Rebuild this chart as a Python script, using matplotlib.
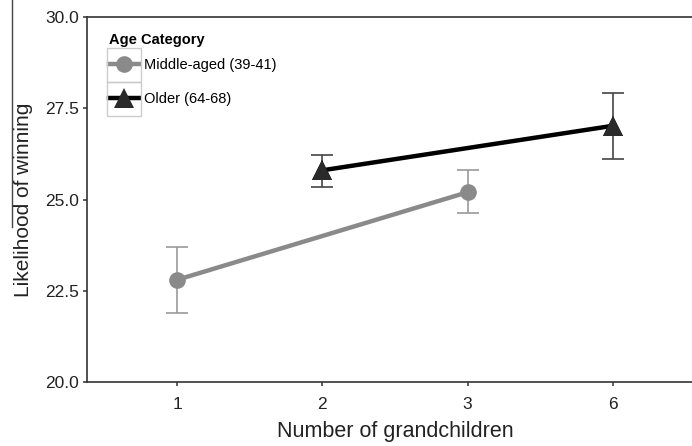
import matplotlib
matplotlib.use("Agg")
import matplotlib.pyplot as plt
from matplotlib.patches import Rectangle
from matplotlib.lines import Line2D
import numpy as np

plt.rcParams['font.family'] = ['Liberation Sans', 'DejaVu Sans']

# categories on the x axis (evenly spaced)
categories = ['1', '2', '3', '6']

# Middle-aged (39-41)
mid_x = ['1', '3']
mid_y = [22.8, 25.2]
mid_lo = [21.9, 24.63]
mid_hi = [23.7, 25.8]

# Older (64-68)
old_x = ['2', '6']
old_y = [25.8, 27.02]
old_lo = [25.35, 26.1]
old_hi = [26.22, 27.92]

fig = plt.figure(figsize=(6.92, 4.46), dpi=100)
ax = fig.add_axes([87 / 692, 64 / 446, 616 / 692, 365 / 446])

pos = {c: i for i, c in enumerate(categories)}

def draw_series(xs, ys, lo, hi, color, ecolor, marker, ms):
    px = [pos[c] for c in xs]
    yerr = [np.array(ys) - np.array(lo), np.array(hi) - np.array(ys)]
    ax.errorbar(px, ys, yerr=yerr, fmt='none', ecolor=ecolor, elinewidth=1.2,
                capsize=8, capthick=1.2, zorder=2)
    ax.plot(px, ys, color=color, lw=3.2, zorder=3)
    ax.plot(px, ys, ls='none', marker=marker, ms=ms, color=color,
            markeredgewidth=0, zorder=4)

draw_series(mid_x, mid_y, mid_lo, mid_hi, '#8a8a8a', '#9a9a9a', 'o', 12)
draw_series(old_x, old_y, old_lo, old_hi, '#000000', '#444444', '^', 15)
# darker triangle fill on top of the black line
ax.plot([pos[c] for c in old_x], old_y, ls='none', marker='^', ms=15,
        color='#2a2a2a', markeredgewidth=0, zorder=5)

ax.set_xlim(-0.62, 3.62)
ax.set_ylim(20, 30)
ax.set_xticks(range(len(categories)))
ax.set_xticklabels(categories)
ax.set_yticks([20.0, 22.5, 25.0, 27.5, 30.0])
ax.set_yticklabels(['20.0', '22.5', '25.0', '27.5', '30.0'])

for s in ['left', 'bottom', 'top']:
    ax.spines[s].set_color('#333333')
    ax.spines[s].set_linewidth(1.2)
ax.spines['right'].set_visible(False)
ax.tick_params(axis='both', direction='out', length=3, width=1.1,
               color='#333333', labelsize=12.5, labelcolor='#222222', pad=2.5)
ax.tick_params(axis='x', pad=8)

ax.set_xlabel('Number of grandchildren', fontsize=15.5, color='#222222', labelpad=6)
ax.set_ylabel('Likelihood of winning', fontsize=15, color='#222222', labelpad=9)

# legend
handles = [
    Line2D([], [], color='#8a8a8a', lw=3.2, marker='o', ms=12, markeredgewidth=0),
    Line2D([], [], color='#000000', lw=3.2, marker='^', ms=15,
           markerfacecolor='#2a2a2a', markeredgewidth=0),
]
leg = ax.legend(handles, ['Middle-aged (39-41)', 'Older (64-68)'],
                title='Age Category', loc='upper left',
                bbox_to_anchor=(16 / 616, 1 - 10 / 365), frameon=False,
                fontsize=10.5, handlelength=2.05, handletextpad=0.35,
                labelspacing=1.34, borderaxespad=0)
leg.get_title().set_fontweight('bold')
leg.get_title().set_fontsize(10.5)
leg._legend_box.align = 'left'
leg._legend_box.sep = 8.3

# boxes round the legend handles
for y0 in [48, 82]:
    fig.patches.append(Rectangle((107 / 692, 1 - (y0 + 34) / 446), 34 / 692, 34 / 446,
                                 transform=fig.transFigure, fill=False,
                                 edgecolor='#cccccc', lw=1.0))

# stray rule at the left edge
fig.add_artist(Line2D([12 / 692, 12 / 692], [1, 1 - 227 / 446],
                      transform=fig.transFigure, color='#444444', lw=1.0))

fig.savefig('out.png', dpi=100)
